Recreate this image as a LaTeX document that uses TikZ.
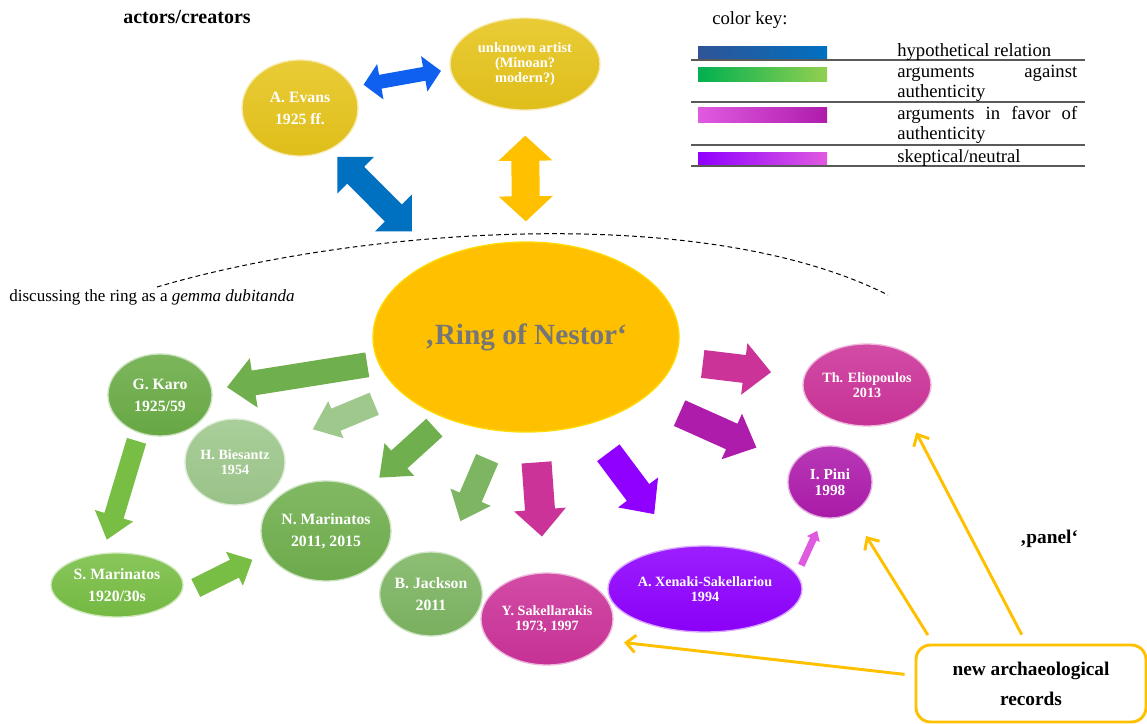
\documentclass[tikz,border=0pt]{standalone}
\usepackage{fontspec}
\setmainfont{Liberation Serif}
\usepackage{tikz}
\usetikzlibrary{calc,shapes.geometric,arrows.meta}

\definecolor{nodeyellow}{RGB}{230,196,27}
\definecolor{ringyellow}{RGB}{255,192,0}
\definecolor{ringtext}{RGB}{118,118,118}
\definecolor{karogreen}{RGB}{106,172,70}
\definecolor{lightgreen}{RGB}{158,200,140}
\definecolor{midgreen}{RGB}{112,175,78}
\definecolor{limegreen}{RGB}{120,190,68}
\definecolor{jacksongreen}{RGB}{125,181,98}
\definecolor{favmagenta}{RGB}{204,51,153}
\definecolor{favpurple}{RGB}{174,28,172}
\definecolor{neutviolet}{RGB}{143,0,255}
\definecolor{neutpink}{RGB}{224,90,224}
\definecolor{hypblue}{RGB}{0,112,192}
\definecolor{brightblue}{RGB}{16,96,240}
\definecolor{navyblue}{RGB}{47,84,150}
\definecolor{keygreen}{RGB}{0,176,80}
\definecolor{keylime}{RGB}{146,208,80}
\definecolor{rulegray}{RGB}{89,89,89}

\hyphenpenalty=10000
\tolerance=9000

% block arrow: [style]{from}{to}{gap from}{gap to}{shaft}{head}{head length}, sizes in px
\newcommand\fatarrow[8][]{%
  \coordinate (fa-a) at ($#2!#4*0.75pt!#3$);
  \coordinate (fa-b) at ($#3!#5*0.75pt!#2$);
  \coordinate (fa-n) at ($(fa-b)!#8*0.75pt!(fa-a)$);
  \fill[#1] ($(fa-a)!#6*0.75pt!90:(fa-b)$) -- ($(fa-n)!#6*0.75pt!90:(fa-b)$)
    -- ($(fa-n)!#7*0.75pt!90:(fa-b)$) -- (fa-b) -- ($(fa-n)!#7*0.75pt!-90:(fa-b)$)
    -- ($(fa-n)!#6*0.75pt!-90:(fa-b)$) -- ($(fa-a)!#6*0.75pt!-90:(fa-b)$) -- cycle;}
% same with a head at both ends
\newcommand\fatdarrow[8][]{%
  \coordinate (fa-a) at ($#2!#4*0.75pt!#3$);
  \coordinate (fa-b) at ($#3!#5*0.75pt!#2$);
  \coordinate (fa-m) at ($(fa-a)!#8*0.75pt!(fa-b)$);
  \coordinate (fa-n) at ($(fa-b)!#8*0.75pt!(fa-a)$);
  \fill[#1] (fa-a) -- ($(fa-m)!#7*0.75pt!90:(fa-b)$) -- ($(fa-m)!#6*0.75pt!90:(fa-b)$)
    -- ($(fa-n)!#6*0.75pt!90:(fa-b)$) -- ($(fa-n)!#7*0.75pt!90:(fa-b)$) -- (fa-b)
    -- ($(fa-n)!#7*0.75pt!-90:(fa-b)$) -- ($(fa-n)!#6*0.75pt!-90:(fa-b)$)
    -- ($(fa-m)!#6*0.75pt!-90:(fa-b)$) -- ($(fa-m)!#7*0.75pt!-90:(fa-b)$) -- cycle;}

\tikzset{
  actor/.style={ellipse, inner sep=0pt, align=center, text=white, top color=#1!88!white, bottom color=#1!97!black, draw=#1!35!white, line width=1pt},
  esize/.style 2 args={minimum width=#1*1.5pt, minimum height=#2*1.5pt},
  bigname/.style={font=\bfseries\fontsize{11.8}{16.5}\selectfont},
  smallname/.style={font=\bfseries\fontsize{10.6}{10.9}\selectfont},
  recline/.style={draw=ringyellow, line width=2.2pt, -{Straight Barb[length=7pt,width=13pt]}},
  keytext/.style={anchor=base west, inner sep=0pt, font=\fontsize{14}{15}\selectfont},
}

\begin{document}
\begin{tikzpicture}[x=0.75pt,y=0.75pt,yscale=-1,xscale=1]
\useasboundingbox (0,0) rectangle (1147,724);

% Text Node
\node[font=\bfseries\fontsize{15}{18}\selectfont] (actors) at (187,17) {actors/creators};
% Text Node
\node[anchor=west, inner sep=0pt, font=\fontsize{12.8}{14}\selectfont] (discuss) at (9,297) {discussing the ring as a \textit{gemma dubitanda}};
% Text Node
\node[font=\bfseries\fontsize{14.5}{17}\selectfont] (panel) at (1049,539) {‚panel‘};

%Dashed Arc
\draw[dashed, dash pattern=on 3.5pt off 2.5pt, line width=0.75pt] (157,287) .. controls (350,230) and (700,200) .. (888,295);

%Color Key
\node[keytext] (keyhead) at (712,25) {color key:};
\shade[left color=navyblue, right color=hypblue] (698,47) rectangle (827,61);
\shade[left color=keygreen, right color=keylime] (698,68) rectangle (827,82);
\shade[left color=neutpink, middle color=favpurple, right color=favpurple] (698,108) rectangle (827,123);
\shade[left color=neutviolet, middle color=neutviolet, right color=neutpink] (698,153) rectangle (827,166);
\draw[rulegray, line width=0.9pt] (691,60) -- (1085,60);
\draw[rulegray, line width=0.9pt] (691,102) -- (1085,102);
\draw[rulegray, line width=0.9pt] (691,145) -- (1085,145);
\draw[rulegray, line width=0.9pt] (691,166) -- (1085,166);
\node[keytext] (key1) at (897,57) {hypothetical relation};
\node[keytext, text width=135pt, align=justify] (key2) at (897,78) {arguments against authenticity};
\node[keytext, text width=135pt, align=justify] (key3) at (897,120) {arguments in favor of authenticity};
\node[keytext] (key4) at (897,162) {skeptical/neutral};

%Ellipses
\node[actor=nodeyellow, esize={58}{48}, bigname] (evans) at (300,108) {A. Evans\\1925 ff.};
\node[actor=nodeyellow, esize={75}{46}, font=\bfseries\fontsize{10.8}{11}\selectfont] (unknown) at (525,64) {unknown artist\\(Minoan?\\modern?)};
\node[ellipse, inner sep=0pt, esize={153}{95}, fill=ringyellow, draw=yellow!55!ringyellow, line width=1pt, text=ringtext, font=\bfseries\fontsize{22}{26}\selectfont] (ring) at (526,337) {‚Ring of Nestor‘};
\node[actor=karogreen, esize={52}{41}, bigname] (karo) at (160,395) {G. Karo\\1925/59};
\node[actor=lightgreen, esize={50}{43}, smallname] (bies) at (235,462) {H. Biesantz\\1954};
\node[actor=midgreen, esize={65}{50}, bigname] (nmar) at (326,531) {N. Marinatos\\2011, 2015};
\node[actor=limegreen, esize={66}{32}, bigname] (smar) at (117,585) {S. Marinatos\\1920/30s};
\node[actor=jacksongreen, esize={50}{42}, bigname] (jack) at (431,594) {B. Jackson\\2011};
\node[actor=favmagenta, esize={66}{46}, smallname] (sak) at (547,619) {Y. Sakellarakis\\1973, 1997};
\node[actor=neutviolet, esize={97}{43}, smallname] (xen) at (705,589) {A. Xenaki-Sakellariou\\1994};
\node[actor=favpurple, esize={42}{36}, font=\bfseries\fontsize{11.5}{12}\selectfont] (pini) at (830,482) {I. Pini\\1998};
\node[actor=favmagenta, esize={64}{41}, smallname] (elio) at (867,385) {Th. Eliopoulos\\2013};

%Block Arrows
\fatdarrow[fill=brightblue]{(evans.22)}{(unknown.184)}{11}{9}{7}{18}{17}
\fatdarrow[fill=hypblue]{(evans.306)}{(ring.138)}{10}{38}{12}{26}{26}
\fatdarrow[fill=ringyellow]{(unknown.south)}{(ring.north)}{25}{20}{14}{27}{25}
\fatarrow[fill=midgreen]{(ring.190)}{(karo.6)}{11}{15}{12.5}{25}{27}
\fatarrow[fill=lightgreen]{(ring.204)}{(bies.23)}{29}{35}{12}{20}{25}
\fatarrow[fill=midgreen]{(ring.225)}{(nmar.46)}{14}{19}{12}{22}{27}
\fatarrow[fill=jacksongreen]{(ring.254)}{(jack.69)}{30}{35}{12}{22}{26}
\fatarrow[fill=favmagenta]{(ring.275)}{(sak.93)}{30}{36}{15}{26}{27}
\fatarrow[fill=neutviolet]{(ring.305)}{(xen.122)}{35}{41}{14}{25}{27}
\fatarrow[fill=favpurple]{(ring.333)}{(pini.154)}{38}{40}{14}{25}{27}
\fatarrow[fill=favmagenta]{(ring.351)}{(elio.172)}{28}{33}{14}{26}{27}
\fatarrow[fill=limegreen]{(karo.241)}{(smar.114)}{8}{14}{10}{20}{25}
\fatarrow[fill=limegreen]{(smar.-10)}{(nmar.200)}{18}{16}{10}{19}{20}
\fatarrow[fill=neutpink]{(xen.9)}{(pini.259)}{10}{14}{3.5}{7}{9}

% Text Node
\node[draw=ringyellow, line width=2.2pt, rounded corners=11pt, minimum width=230*0.75pt, minimum height=77*0.75pt, align=center, font=\bfseries\fontsize{14.5}{22.5}\selectfont] (rec) at (1031,683.5) {new archaeological\\records};

%Record Lines
\draw[recline, shorten <=7.5pt, shorten >=13.5pt] ($(rec.north west)!0.4!(rec.south west)$) -- (sak.340);
\draw[recline, shorten <=7.5pt, shorten >=20pt] ($(rec.north west)!0.08!(rec.north east)$) -- (pini.305);
\draw[recline, shorten <=7.5pt, shorten >=13pt] ($(rec.north west)!0.48!(rec.north east)$) -- (elio.322);

\end{tikzpicture}
\end{document}
